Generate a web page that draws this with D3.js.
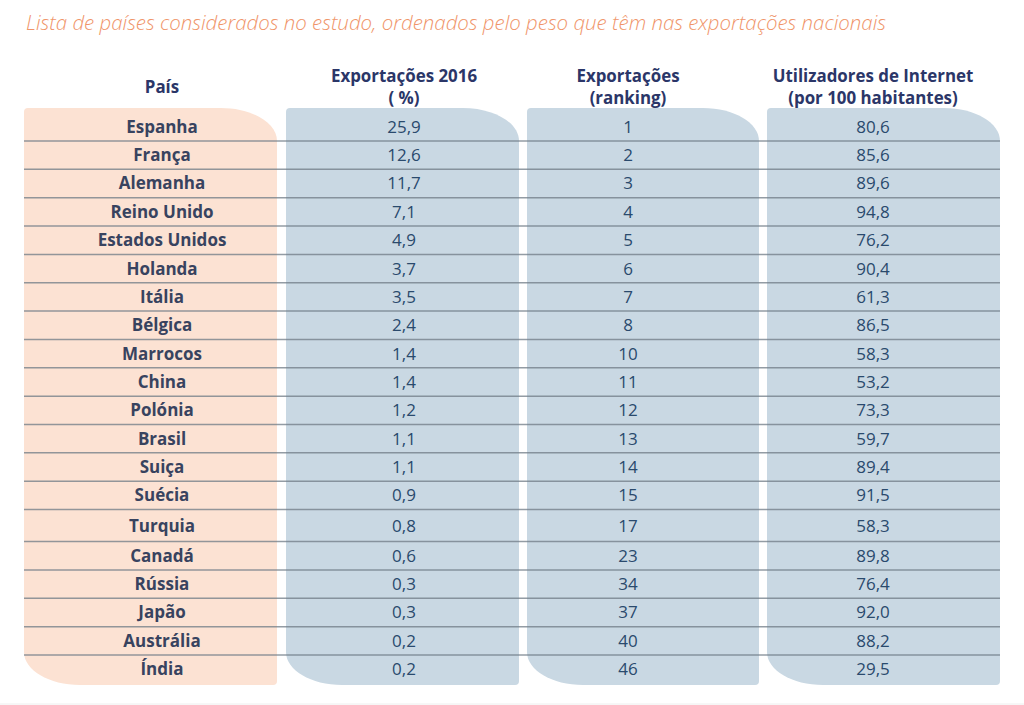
<!DOCTYPE html>
<html><head><meta charset="utf-8">
<script src="https://cdn.jsdelivr.net/npm/d3@7"></script>
<style>
html,body{margin:0;padding:0;background:#fff;}
svg{display:block;font-family:"Open Sans",sans-serif;}
</style></head>
<body>
<svg id="c" width="1024" height="705"></svg>
<script>
const title = "Lista de países considerados no estudo, ordenados pelo peso que têm nas exportações nacionais";
const headers = [["País"], ["Exportações 2016", "( %)"], ["Exportações", "(ranking)"], ["Utilizadores de Internet", "(por 100 habitantes)"]];
const countries = ["Espanha","França","Alemanha","Reino Unido","Estados Unidos","Holanda","Itália","Bélgica","Marrocos","China","Polónia","Brasil","Suiça","Suécia","Turquia","Canadá","Rússia","Japão","Austrália","Índia"];
const exports2016 = ["25,9","12,6","11,7","7,1","4,9","3,7","3,5","2,4","1,4","1,4","1,2","1,1","1,1","0,9","0,8","0,6","0,3","0,3","0,2","0,2"];
const ranking = ["1","2","3","4","5","6","7","8","10","11","12","13","14","15","17","23","34","37","40","46"];
const internet = ["80,6","85,6","89,6","94,8","76,2","90,4","61,3","86,5","58,3","53,2","73,3","59,7","89,4","91,5","58,3","89,8","76,4","92,0","88,2","29,5"];

const svg = d3.select("#c");
const n = countries.length;
const rowH = 28.35, gapAfter = 14, gapExtra = 3.7;
const yBase = d3.scaleLinear().domain([0, n]).range([112.65, 112.65 + rowH * n]);
const rowTop = i => yBase(i) + (i > gapAfter ? gapExtra : 0);
const rowBottom = i => yBase(i + 1) + (i >= gapAfter ? gapExtra : 0);
const rowMid = i => (rowTop(i) + rowBottom(i)) / 2;

const panels = [
  {x0: 24, x1: 277, fill: "#fce2d3", cx: 162},
  {x0: 286, x1: 519, fill: "#c9d8e3", cx: 404},
  {x0: 527, x1: 759, fill: "#c9d8e3", cx: 628},
  {x0: 767, x1: 1000, fill: "#c9d8e3", cx: 873}
];
const pTop = 108, pBot = 685, rx = 56, ry = 33, r = 4;

function panelPath(x0, x1, y0, y1) {
  const p = d3.path();
  p.moveTo(x0 + r, y0);
  p.lineTo(x1 - rx, y0);
  p.bezierCurveTo(x1 - rx + rx * 0.552, y0, x1, y0 + ry - ry * 0.552, x1, y0 + ry);
  p.lineTo(x1, y1 - r);
  p.quadraticCurveTo(x1, y1, x1 - r, y1);
  p.lineTo(x0 + rx, y1);
  p.bezierCurveTo(x0 + rx - rx * 0.552, y1, x0, y1 - ry + ry * 0.552, x0, y1 - ry);
  p.lineTo(x0, y0 + r);
  p.quadraticCurveTo(x0, y0, x0 + r, y0);
  p.closePath();
  return p.toString();
}

svg.append("text").attr("x", 26).attr("y", 30)
  .attr("font-size", 20.45).attr("font-style", "italic").attr("font-weight", 300)
  .attr("fill", "#f0956a").text(title);

svg.selectAll("path.panel").data(panels).join("path").attr("class", "panel")
  .attr("d", d => panelPath(d.x0, d.x1, pTop, pBot)).attr("fill", d => d.fill);

// header
panels.forEach((p, k) => {
  const lines = headers[k];
  const ys = lines.length === 1 ? [93] : [82, 104];
  lines.forEach((t, j) => {
    svg.append("text").attr("x", p.cx).attr("y", ys[j]).attr("text-anchor", "middle")
      .attr("font-size", 16.9).attr("font-weight", 700).attr("fill", "#2b3668").text(t);
  });
});

// row separators
const seps = d3.range(n - 1);
svg.selectAll("line.sep").data(seps).join("line").attr("class", "sep")
  .attr("x1", 24).attr("x2", 1000)
  .attr("y1", i => rowBottom(i)).attr("y2", i => rowBottom(i))
  .attr("stroke", "#6f7b86").attr("stroke-opacity", 0.75).attr("stroke-width", 1.5);

const cols = [
  {vals: countries, bold: true, color: "#38435f"},
  {vals: exports2016, bold: false, color: "#2a4a6d"},
  {vals: ranking, bold: false, color: "#2a4a6d"},
  {vals: internet, bold: false, color: "#2a4a6d"}
];
cols.forEach((c, k) => {
  svg.append("g").selectAll("text").data(c.vals).join("text")
    .attr("x", panels[k].cx).attr("y", (d, i) => rowMid(i)).attr("dy", "0.35em")
    .attr("text-anchor", "middle").attr("font-size", 17)
    .attr("font-weight", c.bold ? 700 : 400).attr("fill", c.color).text(d => d);
});

svg.append("line").attr("x1", 0).attr("x2", 1024).attr("y1", 704).attr("y2", 704)
  .attr("stroke", "#eeeeee").attr("stroke-width", 1);
</script>
</body></html>
